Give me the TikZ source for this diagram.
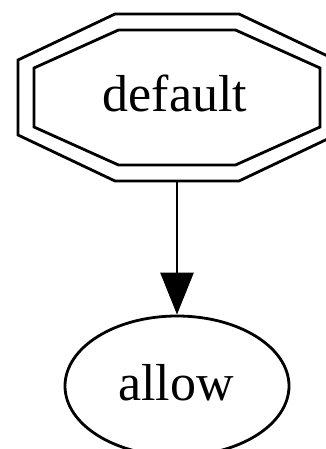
\documentclass[tikz,border=0pt]{standalone}
\usepackage{fontspec}
\setmainfont{Liberation Serif}
\usetikzlibrary{arrows.meta,shapes.geometric,calc}
\begin{document}
\begin{tikzpicture}[x=1pt,y=-1pt,
  edge/.style={line width=2.8pt,-{Triangle[length=42pt,width=33pt]}},
  outline/.style={line width=2.8pt,line join=miter},
  nodetext/.style={font=\fontsize{52}{60}\selectfont,inner sep=0pt},
  ellnode/.style={ellipse,draw,line width=2.8pt,minimum width=224pt,minimum height=140pt,inner sep=0pt}]
  \useasboundingbox (0,0) rectangle (326,449);
  \fill[white] (0,0) rectangle (326,449);

  % doubleoctagon "default"
  \coordinate (dc) at (177,97.5);
  \draw[outline] ($(dc)+(-62,-83.5)$) -- ($(dc)+(62,-83.5)$) -- ($(dc)+(159,-37.5)$)
    -- ($(dc)+(159,37.5)$) -- ($(dc)+(62,83.5)$) -- ($(dc)+(-62,83.5)$)
    -- ($(dc)+(-159,37.5)$) -- ($(dc)+(-159,-37.5)$) -- cycle;
  \draw[outline] ($(dc)+(-58.5,-67.5)$) -- ($(dc)+(58.5,-67.5)$) -- ($(dc)+(143,-29.5)$)
    -- ($(dc)+(143,29.5)$) -- ($(dc)+(58.5,67.5)$) -- ($(dc)+(-58.5,67.5)$)
    -- ($(dc)+(-143,29.5)$) -- ($(dc)+(-143,-29.5)$) -- cycle;
  \node[nodetext,anchor=base] (default) at (175,112) {default};
  \coordinate (defbot) at ($(dc)+(0,83.5)$);

  % ellipse "allow"
  \node[ellnode] (allow) at (177,386) {};
  \node[nodetext,anchor=base] (allowtext) at (176,400) {allow};

  \draw[edge] (defbot) -- (allow.north);
\end{tikzpicture}
\end{document}
